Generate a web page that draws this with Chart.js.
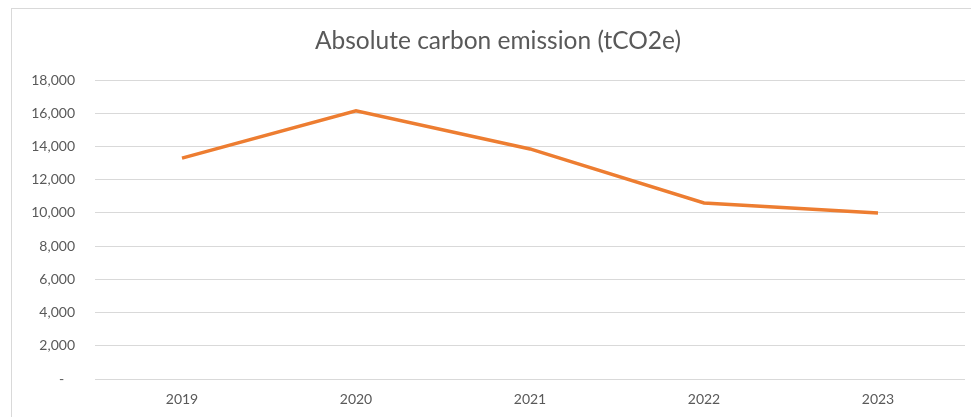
<!DOCTYPE html>
<html>
<head>
<meta charset="utf-8">
<script src="https://cdn.jsdelivr.net/npm/chart.js"></script>
<style>
  html, body { margin: 0; padding: 0; background: #fff; overflow: hidden; }
  .frame {
    position: absolute; left: 11px; top: 8px; width: 990px; height: 430px;
    border: 1px solid #d9d9d9; box-sizing: border-box;
  }
  .chart-box { position: absolute; left: 0; top: 0; width: 971px; height: 417px; }
</style>
</head>
<body>
<div class="frame"></div>
<div class="chart-box"><canvas id="emissionChart"></canvas></div>
<script>
  // values
  const years = ['2019', '2020', '2021', '2022', '2023'];
  const emissions = [13300, 16150, 13850, 10600, 10000];
  const yTicks = [0, 2000, 4000, 6000, 8000, 10000, 12000, 14000, 16000, 18000];
  const chartTitle = 'Absolute carbon emission (tCO2e)';

  const textGrey = '#595959';
  const fontFamily = 'Lato, Carlito, Calibri, sans-serif';

  // title drawn by hand so it sits where the Excel one did
  const titlePlugin = {
    id: 'excelTitle',
    afterDraw(chart) {
      const ctx = chart.ctx;
      ctx.save();
      ctx.fillStyle = textGrey;
      ctx.font = '24.5px ' + fontFamily;
      ctx.textAlign = 'center';
      ctx.textBaseline = 'alphabetic';
      ctx.fillText(chartTitle, 498, 49);
      ctx.restore();
    }
  };

  const ctx = document.getElementById('emissionChart').getContext('2d');
  new Chart(ctx, {
    type: 'line',
    data: {
      labels: years,
      datasets: [{
        label: chartTitle,
        data: emissions,
        borderColor: '#ED7D31',
        borderWidth: 3.5,
        pointRadius: 0,
        tension: 0,
        fill: false
      }]
    },
    options: {
      responsive: true,
      maintainAspectRatio: false,
      animation: false,
      layout: { padding: { top: 80, right: 6, left: 0, bottom: 0 } },
      plugins: {
        legend: { display: false },
        tooltip: { enabled: false }
      },
      scales: {
        x: {
          offset: true,
          grid: { display: false, drawTicks: false },
          border: { display: false },
          ticks: { color: textGrey, font: { family: fontFamily, size: 14 }, padding: 12, maxRotation: 0 },
          afterFit(scale) { scale.height = 38; }
        },
        y: {
          min: 0,
          max: 18000,
          afterBuildTicks(scale) { scale.ticks = yTicks.map(v => ({ value: v })); },
          grid: { color: '#d9d9d9', lineWidth: 1, drawTicks: false },
          border: { display: false },
          ticks: {
            color: textGrey,
            font: { family: fontFamily, size: 14 },
            padding: 20,
            callback: v => v === 0 ? '-   ' : v.toLocaleString('en-US')
          },
          afterFit(scale) { scale.width = 95; }
        }
      }
    },
    plugins: [titlePlugin]
  });
</script>
</body>
</html>
